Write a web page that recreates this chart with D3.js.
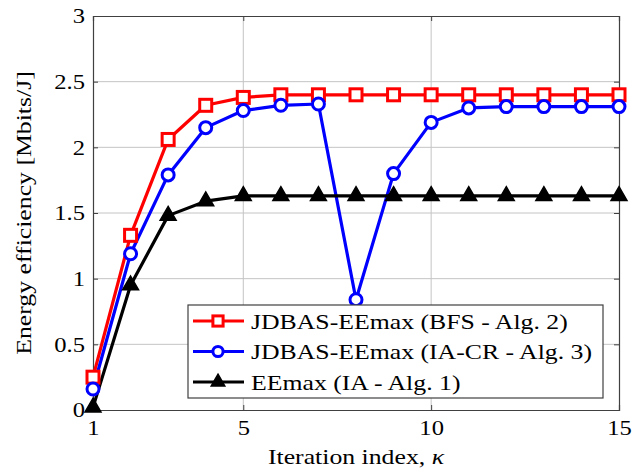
<!DOCTYPE html>
<html>
<head>
<meta charset="utf-8">
<script src="https://cdn.jsdelivr.net/npm/d3@7"></script>
<style>
  body { margin: 0; background: #fff; }
</style>
</head>
<body>
<script>
const iterations = d3.range(1, 16);
const bfsValues = [0.25, 1.33, 2.06, 2.32, 2.38, 2.40, 2.40, 2.40, 2.40, 2.40, 2.40, 2.40, 2.40, 2.40, 2.40];
const iacrValues = [0.16, 1.19, 1.79, 2.15, 2.28, 2.32, 2.33, 0.84, 1.80, 2.19, 2.30, 2.31, 2.31, 2.31, 2.31];
const iaValues = [0.02, 0.95, 1.48, 1.59, 1.63, 1.63, 1.63, 1.63, 1.63, 1.63, 1.63, 1.63, 1.63, 1.63, 1.63];
const xTicks = [1, 5, 10, 15];
const yTicks = [0, 0.5, 1, 1.5, 2, 2.5, 3];
const seriesNames = ["JDBAS-EEmax (BFS - Alg. 2)", "JDBAS-EEmax (IA-CR - Alg. 3)", "EEmax (IA - Alg. 1)"];

const width = 644, height = 473;
const margin = {top: 16, right: 25, bottom: 63, left: 93};
const serif = "'Liberation Serif', 'DejaVu Serif', serif";
// the original uses Computer Modern, which is wider than Times-like fonts
const stretch = 1.17;

const series = [
  {name: seriesNames[0], values: bfsValues, color: "#ff0000", marker: "square"},
  {name: seriesNames[1], values: iacrValues, color: "#0000ff", marker: "circle"},
  {name: seriesNames[2], values: iaValues, color: "#000000", marker: "triangle"}
];

const svg = d3.select("body").append("svg")
  .attr("width", width)
  .attr("height", height);

const x = d3.scaleLinear().domain([1, 15]).range([margin.left, width - margin.right]);
const y = d3.scaleLinear().domain([0, 3]).range([height - margin.bottom, margin.top]);

function widen(sel) {
  sel.each(function () {
    const len = this.getComputedTextLength();
    d3.select(this).attr("textLength", len * stretch).attr("lengthAdjust", "spacingAndGlyphs");
  });
}

// grid
svg.append("g")
  .attr("stroke", "#c4c4c4")
  .attr("stroke-width", 1)
  .selectAll("line")
  .data(xTicks.slice(1, -1))
  .join("line")
  .attr("x1", d => x(d)).attr("x2", d => x(d))
  .attr("y1", y(0)).attr("y2", y(3));

svg.append("g")
  .attr("stroke", "#c4c4c4")
  .attr("stroke-width", 1)
  .selectAll("line")
  .data(yTicks.slice(1, -1))
  .join("line")
  .attr("x1", x(1)).attr("x2", x(15))
  .attr("y1", d => y(d)).attr("y2", d => y(d));

// axes with inward ticks
const axisColor = "#404040";
const xAxis = svg.append("g")
  .attr("transform", `translate(0,${y(0)})`)
  .call(d3.axisBottom(x).tickValues(xTicks).tickSize(-5).tickPadding(10).tickFormat(d3.format("d")));
const xAxisTop = svg.append("g")
  .attr("transform", `translate(0,${y(3)})`)
  .call(d3.axisTop(x).tickValues(xTicks).tickSize(-5).tickFormat(""));
const yAxis = svg.append("g")
  .attr("transform", `translate(${x(1)},0)`)
  .call(d3.axisLeft(y).tickValues(yTicks).tickSize(-5).tickPadding(8).tickFormat(d => d));
const yAxisRight = svg.append("g")
  .attr("transform", `translate(${x(15)},0)`)
  .call(d3.axisRight(y).tickValues(yTicks).tickSize(-5).tickFormat(""));

[xAxis, xAxisTop, yAxis, yAxisRight].forEach(g => {
  g.select(".domain").attr("stroke", axisColor).attr("stroke-width", 1.2);
  g.selectAll(".tick line").attr("stroke", axisColor);
  g.selectAll("text").attr("fill", "#000")
    .style("font-family", serif).style("font-size", "21px")
    .call(widen);
});

// lines
const line = d3.line()
  .x((d, i) => x(iterations[i]))
  .y(d => y(d));

function drawMarker(g, type, color, k = 1) {
  if (type === "square") {
    g.append("rect")
      .attr("x", -6 * k).attr("y", -6 * k)
      .attr("width", 12 * k).attr("height", 12 * k)
      .attr("fill", "#fff").attr("stroke", color).attr("stroke-width", 3);
  } else if (type === "circle") {
    g.append("circle")
      .attr("r", 6 * k)
      .attr("fill", "#fff").attr("stroke", color).attr("stroke-width", 3);
  } else {
    g.append("path")
      .attr("d", d3.symbol().type(d3.symbolTriangle).size(110 * k * k)())
      .attr("fill", color).attr("stroke", color).attr("stroke-width", 1.5)
      .attr("stroke-linejoin", "miter");
  }
}

series.forEach(s => {
  svg.append("path")
    .datum(s.values)
    .attr("fill", "none")
    .attr("stroke", s.color)
    .attr("stroke-width", 3.2)
    .attr("stroke-linejoin", "round")
    .attr("d", line);
});

series.forEach(s => {
  s.values.forEach((v, i) => {
    const g = svg.append("g").attr("transform", `translate(${x(iterations[i])},${y(v)})`);
    drawMarker(g, s.marker, s.color);
  });
});

// legend
const legend = svg.append("g").attr("transform", "translate(188,305)");
legend.append("rect")
  .attr("width", 415).attr("height", 93)
  .attr("fill", "#fff").attr("stroke", axisColor).attr("stroke-width", 1.2);

series.forEach((s, i) => {
  const row = legend.append("g").attr("transform", `translate(0,${16 + i * 30.5})`);
  row.append("line")
    .attr("x1", 5).attr("x2", 56)
    .attr("stroke", s.color).attr("stroke-width", 3.2);
  const m = row.append("g").attr("transform", "translate(30,0)");
  drawMarker(m, s.marker, s.color, 0.85);
  row.append("text")
    .attr("x", 63).attr("dy", "0.35em")
    .style("font-family", serif)
    .style("font-size", "22px")
    .text(s.name)
    .call(widen);
});

// axis labels
const xLabel = svg.append("text")
  .attr("x", (x(1) + x(15)) / 2)
  .attr("y", 464)
  .attr("text-anchor", "middle")
  .style("font-family", serif)
  .style("font-size", "22px");
xLabel.append("tspan").text("Iteration index, ");
xLabel.append("tspan").style("font-style", "italic").text("κ");
widen(xLabel);

svg.append("text")
  .attr("transform", `translate(31,${(y(0) + y(3)) / 2}) rotate(-90)`)
  .attr("text-anchor", "middle")
  .style("font-family", serif)
  .style("font-size", "22px")
  .text("Energy efficiency [Mbits/J]")
  .call(widen);
</script>
</body>
</html>
